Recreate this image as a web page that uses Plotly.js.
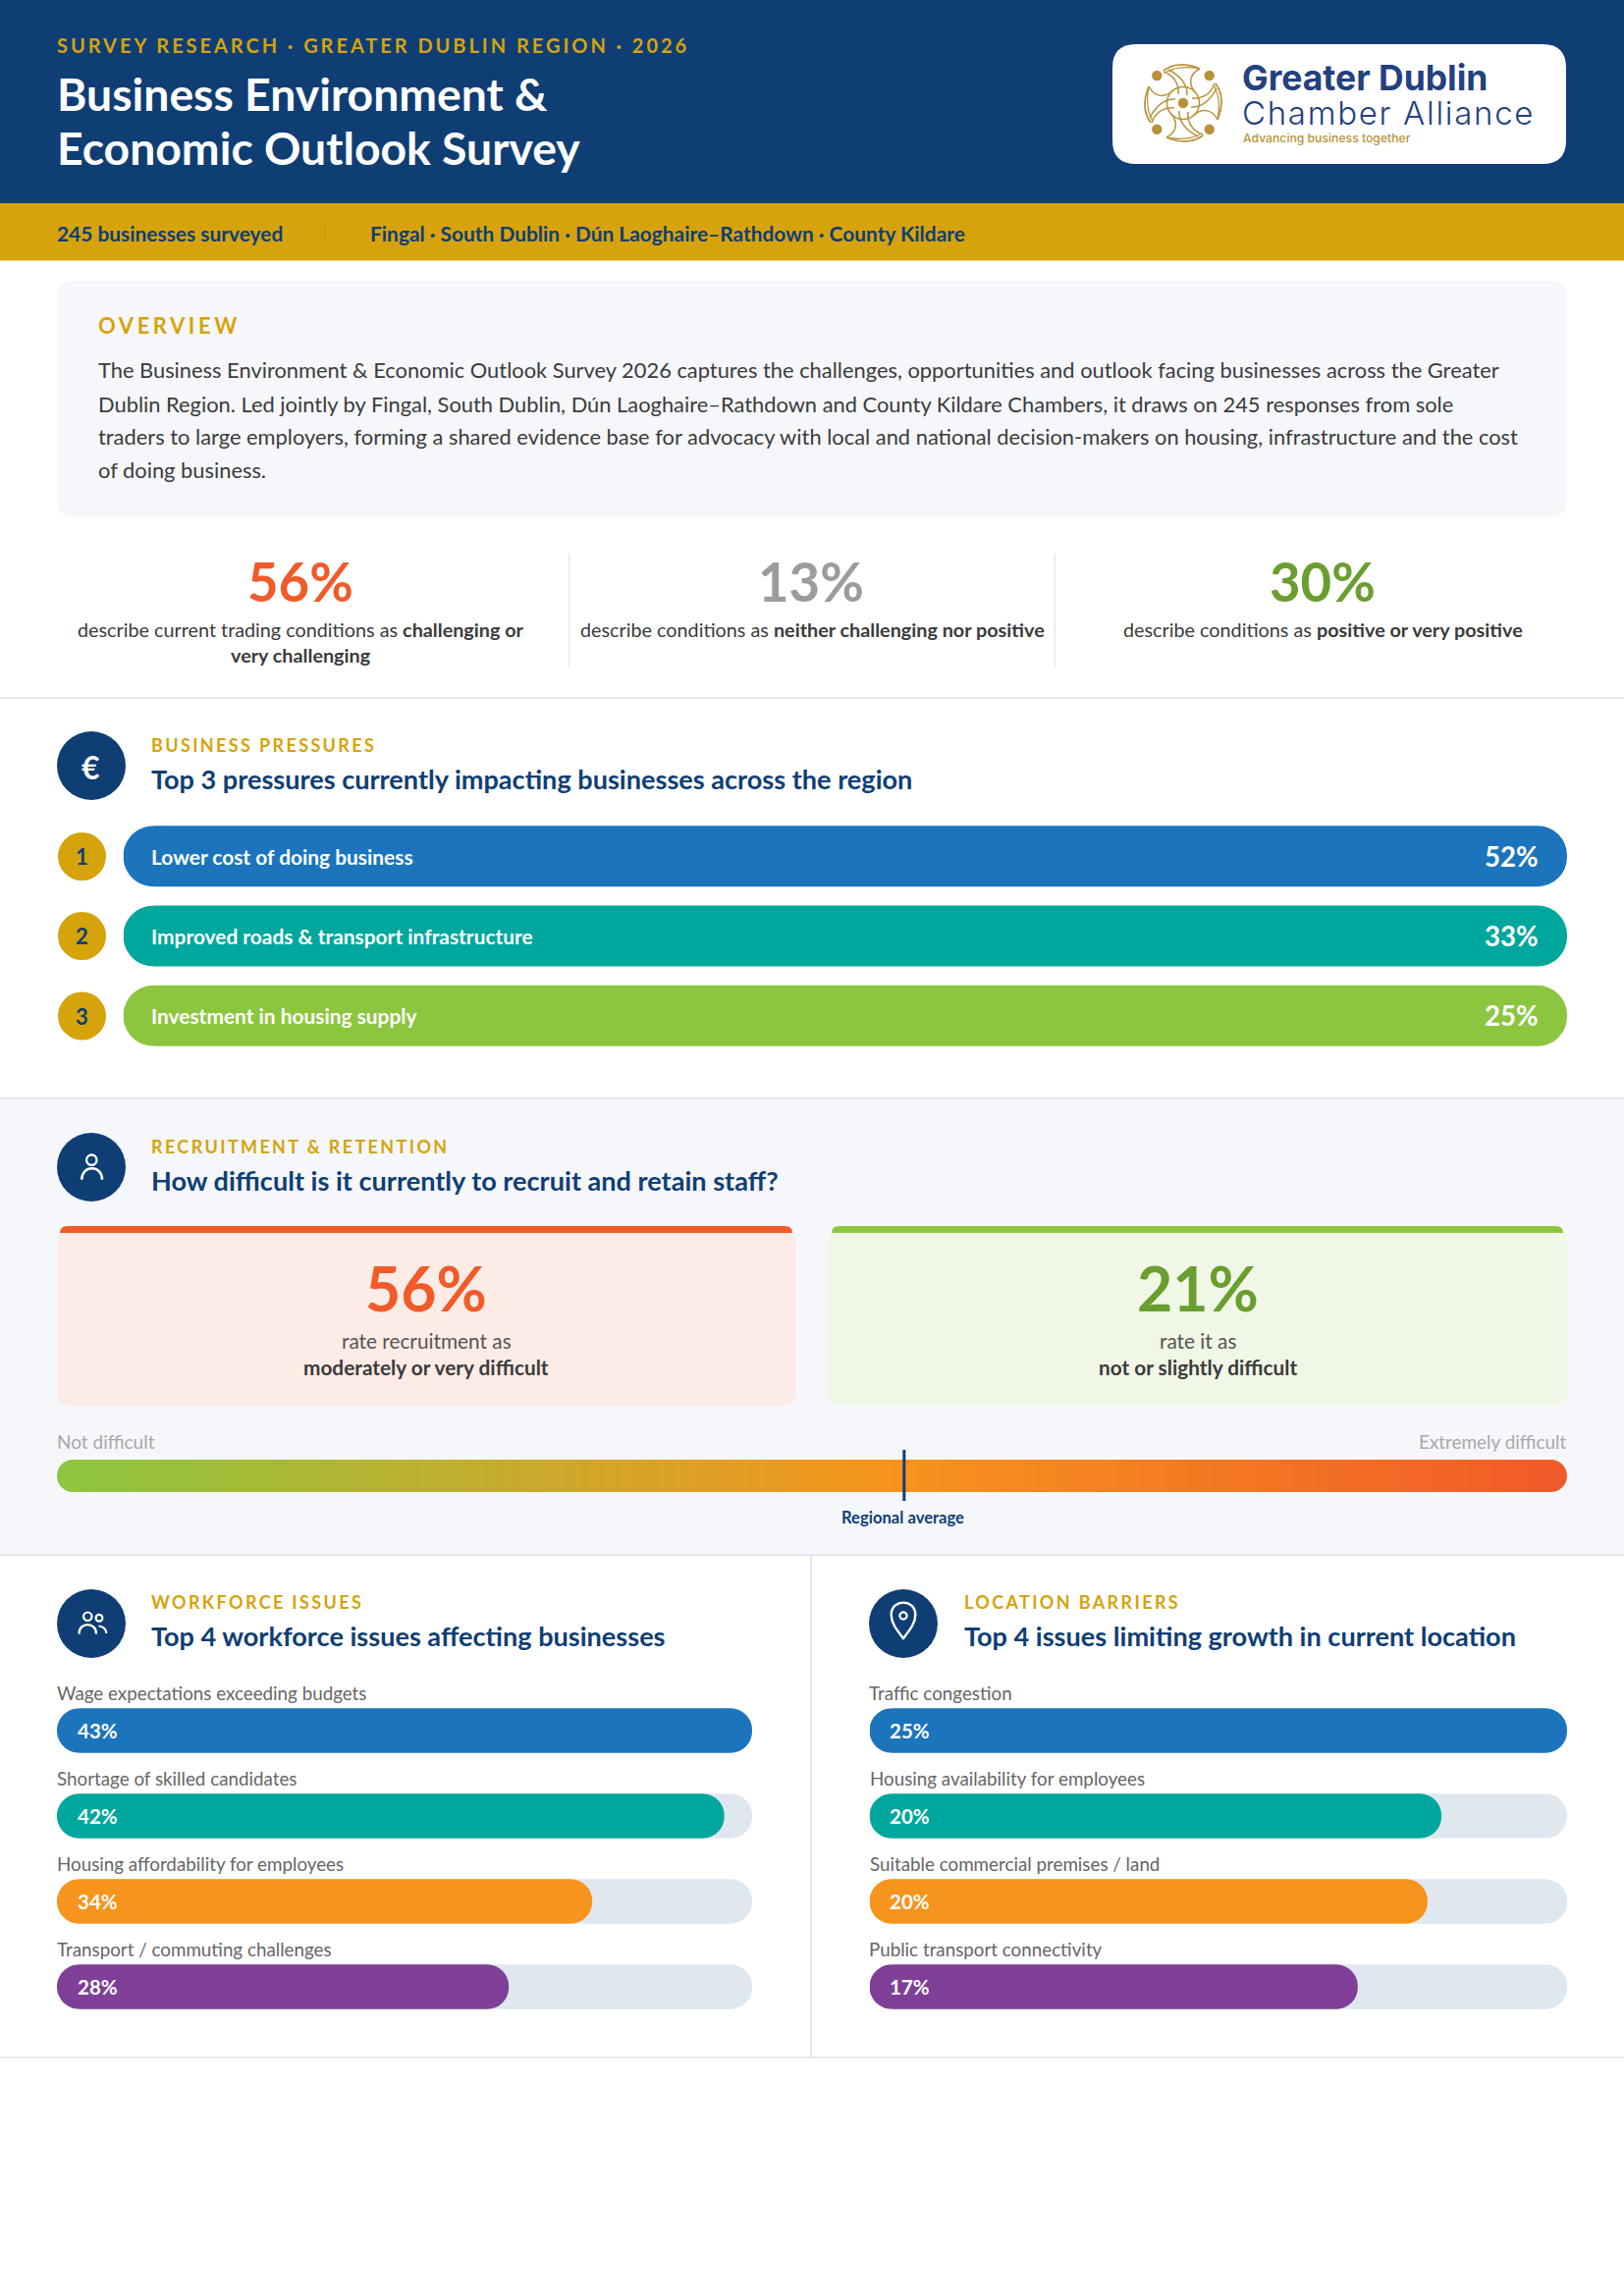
<!DOCTYPE html>
<html><head><meta charset="utf-8">
<script src="https://cdn.plot.ly/plotly-3.0.1.min.js"></script>
<style>html,body{margin:0;padding:0;background:#fff}#chart{width:1654px;height:2339px}</style>
</head><body><div id="chart"></div>
<script>
// ---- data ----
const kpiValues = ["56%", "13%", "30%"];
const pressureCategories = ["Lower cost of doing business", "Improved roads & transport infrastructure", "Investment in housing supply"];
const pressureValues = [52, 33, 25];
const pressureBarLength = [100, 100, 100];
const pressureColors = ["#1c75bc", "#00a79d", "#8cc63f"];
const recruitmentDifficult = 56;
const recruitmentEasy = 21;
const regionalAveragePosition = 56.1;
const gradientPositions = [0, 25, 50, 75, 100];
const workforceCategories = ["Wage expectations exceeding budgets", "Shortage of skilled candidates", "Housing affordability for employees", "Transport / commuting challenges"];
const workforceValues = [43, 42, 34, 28];
const workforceBarLength = [100, 96, 77, 65];
const locationCategories = ["Traffic congestion", "Housing availability for employees", "Suitable commercial premises / land", "Public transport connectivity"];
const locationValues = [25, 20, 20, 17];
const locationBarLength = [100, 82, 80, 70];
const issueColors = ["#1c75bc", "#00a79d", "#f7941d", "#7f3f98"];
const trackLength = [100, 100, 100, 100];
const overviewLines = [
 "The Business Environment & Economic Outlook Survey 2026 captures the challenges, opportunities and outlook facing businesses across the Greater",
 "Dublin Region. Led jointly by Fingal, South Dublin, Dún Laoghaire–Rathdown and County Kildare Chambers, it draws on 245 responses from sole",
 "traders to large employers, forming a shared evidence base for advocacy with local and national decision-makers on housing, infrastructure and the cost",
 "of doing business."];

// ---- palette ----
const NAVY="#0f3e75", GOLD="#d6a30a", PALE="#f5f7fb", RULE="#e3e9f0", BODY="#3b3b3b";

const W=1654,H=2339;
const ann=[],shp=[],spaced=[];
function txt(x,y,text,size,color,o){o=o||{};
  ann.push({xref:o.xref||'x',yref:o.yref||'y',x:x,y:y,xshift:o.xshift||0,yshift:o.yshift||0,text:text,showarrow:false,
    xanchor:o.anchor||'left',yanchor:'middle',align:o.anchor||'left',borderpad:0,borderwidth:0,
    font:{family:o.family||'Lato',size:size,color:color,weight:o.weight||400}});
  if(o.spacing) spaced.push([text,o.spacing]);
}
function rr(x0,y0,x1,y1,r){return `M${x0+r},${y0}L${x1-r},${y0}Q${x1},${y0} ${x1},${y0+r}L${x1},${y1-r}Q${x1},${y1} ${x1-r},${y1}L${x0+r},${y1}Q${x0},${y1} ${x0},${y1-r}L${x0},${y0+r}Q${x0},${y0} ${x0+r},${y0}Z`;}
function fillPath(p,color,layer){shp.push({type:'path',xref:'x',yref:'y',path:p,fillcolor:color,line:{width:0},layer:layer||'below'});}
function strokePath(p,color,w,layer){shp.push({type:'path',xref:'x',yref:'y',path:p,fillcolor:'rgba(0,0,0,0)',line:{width:w,color:color},layer:layer||'below'});}
function rect(x0,y0,x1,y1,color,layer){shp.push({type:'rect',xref:'x',yref:'y',x0,y0,x1,y1,fillcolor:color,line:{width:0},layer:layer||'below'});}
function circ(cx,cy,r,color,lc,lw){shp.push({type:'circle',xref:'x',yref:'y',x0:cx-r,x1:cx+r,y0:cy-r,y1:cy+r,fillcolor:color,line:{width:lw||0,color:lc||color},layer:'below'});}
// background-coloured corners that round the left end of a horizontal bar
function leftCap(x,yT,yB,color){const r=(yB-yT)/2,k=r*0.4477,m=yT+r;
  fillPath(`M${x-1},${yT-1}L${x+r},${yT-1}L${x+r},${yT}C${x+k},${yT} ${x},${yT+k} ${x},${m}C${x},${m+r-k} ${x+k},${yB} ${x+r},${yB}L${x+r},${yB+1}L${x-1},${yB+1}Z`,color,'above');}

// ---- backgrounds ----
rect(0,0,W,207,NAVY);
rect(0,207,W,265.5,GOLD);
fillPath(rr(58,286,1596,526.5,18),PALE);
rect(0,710,W,712,RULE);
rect(0,1119,W,1584,PALE);
rect(0,1118,W,1120,RULE);
rect(0,1583,W,1585,RULE);
rect(0,2095,W,2097,RULE);
rect(825,1584,827,2096,RULE);
rect(579,564,580.5,680,RULE);
rect(1073.5,564,1075,680,RULE);
rect(330.5,228,331.5,246,"#c4950f");

// ---- header ----
txt(58,46,"SURVEY RESEARCH · GREATER DUBLIN REGION · 2026",20,GOLD,{weight:700,spacing:2.96});
txt(58,95,"Business Environment &",46.3,"#ffffff",{weight:700});
txt(58,150,"Economic Outlook Survey",46.3,"#ffffff",{weight:700});
txt(58,237.5,"245 businesses surveyed",20.9,NAVY,{weight:700});
txt(377,237.5,"Fingal · South Dublin · Dún Laoghaire–Rathdown · County Kildare",20.9,NAVY,{weight:700});

// ---- logo ----
fillPath(rr(1133,45,1595,167,24),"#ffffff");
const LOGO="#b8923a",lcx=1205,lcy=105;
[[-26.7,-28],[26.7,-28],[-26.7,26.7],[26.7,26.7],[0,0]].forEach(d=>circ(lcx+d[0],lcy+d[1],5.2,LOGO));
function rot(p,k){let x=p[0],y=p[1];for(let i=0;i<k;i++){const t=x;x=-y;y=t;}return [lcx+x,lcy+y];}
function logoPath(start,cmds,k){const s=rot(start,k);let d=`M${s[0]},${s[1]}`;
  cmds.forEach(c=>{const P=c.slice(1).map(p=>rot(p,k));d+=c[0]+P.map(p=>p[0]+','+p[1]).join(' ');});return d;}
for(let k=0;k<4;k++){
  strokePath(logoPath([-20,-33],[['Q',[-5,-44],[17,-35]]],k),LOGO,1.7);
  strokePath(logoPath([-17,-32],[['Q',[-3,-39],[17,-35]]],k),LOGO,1.3);
  strokePath(logoPath([-20,-32],[['C',[-8,-28],[-4,-18],[-5,-9]]],k),LOGO,1.5);
  strokePath(logoPath([-15,-34],[['C',[-3,-28],[5,-18],[4,-8]]],k),LOGO,1.5);
  strokePath(logoPath([17,-35],[['C',[7,-30],[4,-20],[13,-10]]],k),LOGO,1.5);
}
circ(lcx,lcy,16.5,'rgba(0,0,0,0)',LOGO,1.5);
txt(1265,79,"Greater Dublin",35.5,"#24407f",{weight:700,family:'Inter'});
txt(1265,114.5,"Chamber Alliance",33,"#24407f",{weight:300,family:'Inter',spacing:1.7});
txt(1266,140,"Advancing business together",12.2,LOGO,{weight:500,family:'Inter'});

// ---- overview ----
txt(100,331,"OVERVIEW",22,GOLD,{weight:700,spacing:3.55});
overviewLines.forEach((l,i)=>txt(100,[376.5,411,444,478.5][i],l,21.87,BODY));

// ---- KPI ----
txt(306,591.5,kpiValues[0],54.5,"#f15a29",{anchor:'center',weight:700});
txt(826,591.5,kpiValues[1],54.5,"#9c9c9c",{anchor:'center',weight:700});
txt(1347,591.5,kpiValues[2],54.5,"#6a9e2f",{anchor:'center',weight:700});
txt(306,640.5,"describe current trading conditions as <b>challenging or</b>",19.8,BODY,{anchor:'center'});
txt(306,667,"<b>very challenging</b>",19.8,BODY,{anchor:'center'});
txt(827,640.5,"describe conditions as <b>neither challenging nor positive</b>",19.8,BODY,{anchor:'center'});
txt(1347.5,640.5,"describe conditions as <b>positive or very positive</b>",19.8,BODY,{anchor:'center'});

// ---- section heads ----
function head(cx,cy,tx,eb,title,ebY,tY){
  circ(cx,cy,35,NAVY);
  txt(tx,ebY,eb,18,GOLD,{weight:700,spacing:2.36});
  txt(tx,tY,title,27.1,NAVY,{weight:700});
}
head(93,780,154,"BUSINESS PRESSURES","Top 3 pressures currently impacting businesses across the region",759,793.5);
head(93,1189,154,"RECRUITMENT & RETENTION","How difficult is it currently to recruit and retain staff?",1168,1202);
head(93,1654,154,"WORKFORCE ISSUES","Top 4 workforce issues affecting businesses",1632,1666);
head(920,1654,982,"LOCATION BARRIERS","Top 4 issues limiting growth in current location",1632,1666);
// icons
txt(92,781,"€",32,"#ffffff",{anchor:'center',weight:700});
circ(93.3,1181.7,5.2,'rgba(0,0,0,0)','#ffffff',2.4);
strokePath("M83.3,1201.7C83.3,1186.5 104,1186.5 104,1201.7",'#ffffff',2.6);
circ(89.3,1646.7,4.2,'rgba(0,0,0,0)','#ffffff',2.2);
circ(101,1648.3,3.4,'rgba(0,0,0,0)','#ffffff',2.2);
strokePath("M80.5,1664.5C80.5,1652 98,1652 98,1664.5",'#ffffff',2.4);
strokePath("M100.5,1656.5C105,1656.5 108.3,1660 108.3,1664",'#ffffff',2.2);
strokePath("M920,1669C914,1661 907.7,1654 907.7,1645C907.7,1628.5 932.3,1628.5 932.3,1645C932.3,1654 926,1661 920,1669Z",'#ffffff',2.4);
circ(920,1646,3.6,'rgba(0,0,0,0)','#ffffff',2.2);

// ---- rank circles ----
[872.5,953.5,1035].forEach((y,i)=>{circ(83.5,y,24.5,GOLD);txt(83.5,y,String(i+1),22,NAVY,{anchor:'center',weight:700});});

// ---- recruitment cards ----
fillPath(rr(58,1252,810.5,1432,14),"#fdece6");
fillPath(rr(843.5,1252,1596,1432,14),"#f0f7e6");
fillPath("M61,1256Q61,1249 69,1249L799,1249Q807,1249 807,1256Z","#f15a29");
fillPath("M847,1256Q847,1249 855,1249L1584,1249Q1592,1249 1592,1256Z","#8cc63f");
txt(434,1311,recruitmentDifficult+"%",62.6,"#f15a29",{anchor:'center',weight:700});
txt(1219.5,1311,recruitmentEasy+"%",62.6,"#6a9e2f",{anchor:'center',weight:700});
txt(434,1365,"rate recruitment as",20.8,"#555555",{anchor:'center'});
txt(434,1392.5,"moderately or very difficult",20.8,BODY,{anchor:'center',weight:700});
txt(1219.5,1365,"rate it as",20.8,"#555555",{anchor:'center'});
txt(1219.5,1392.5,"not or slightly difficult",20.8,BODY,{anchor:'center',weight:700});
txt(58,1468.5,"Not difficult",19,"#a8a8a8");
txt(1596,1468.5,"Extremely difficult",18.9,"#a8a8a8",{anchor:'right'});
txt(919,1545.5,"Regional average",16.6,NAVY,{anchor:'center',weight:700});

// ---- axes & traces ----
const hidden={visible:false,fixedrange:true,showgrid:false,zeroline:false};
const layout={width:W,height:H,margin:{l:0,r:0,t:0,b:0,pad:0},paper_bgcolor:'#ffffff',plot_bgcolor:'rgba(0,0,0,0)',
  showlegend:false,barmode:'overlay',font:{family:'Lato'},
  xaxis:{...hidden,domain:[0,1],range:[0,W],anchor:'y'},
  yaxis:{...hidden,domain:[0,1],range:[H,0],anchor:'x'},
  shapes:shp,annotations:ann};
const traces=[{type:'scatter',x:[0],y:[0],mode:'markers',marker:{opacity:0,size:1},hoverinfo:'skip',xaxis:'x',yaxis:'y'}];
let nAxis=2;
function addAxes(x0,x1,y0,y1,cats){
  const n=nAxis++, xk='x'+n, yk='y'+n;
  layout['xaxis'+n]={...hidden,domain:[x0/W,x1/W],range:[0,100],anchor:yk};
  layout['yaxis'+n]={...hidden,type:'category',domain:[1-y1/H,1-y0/H],range:[cats.length-0.5,-0.5],anchor:xk,categoryorder:'array',categoryarray:cats};
  return [xk,yk];
}
function panel(x0,x1,y0,y1,cats,vals,lens,colors,radius,gap,track,onBar){
  // the track sits on its own axes so the shorter bars above it keep their rounded ends
  if(track){const a=addAxes(x0,x1,y0,y1,cats);
    traces.push({type:'bar',orientation:'h',x:trackLength,y:cats,xaxis:a[0],yaxis:a[1],width:gap,marker:{color:'#dfe7ef',cornerradius:radius},hoverinfo:'skip'});}
  const a=addAxes(x0,x1,y0,y1,cats), xk=a[0], yk=a[1];
  traces.push({type:'bar',orientation:'h',x:lens,y:cats,xaxis:xk,yaxis:yk,width:gap,marker:{color:colors,cornerradius:radius},text:vals.map(v=>v+'%'),textposition:'none',hovertemplate:'%{y}: %{text}<extra></extra>'});
  const step=(y1-y0)/cats.length;
  cats.forEach((c,i)=>{onBar(c,vals[i],xk,yk);
    const m=y0+(i+0.5)*step,h=gap*step/2; leftCap(x0,m-h,m+h,'#ffffff');});
}
panel(125.5,1596,831.5,1075.5,pressureCategories,pressureValues,pressureBarLength,pressureColors,31,0.762,false,(c,v,xk,yk)=>{
  txt(0,c,c.replace('&','&amp;'),20.9,'#ffffff',{xref:xk,yref:yk,xshift:28,weight:700});
  txt(100,c,v+'%',27.6,'#ffffff',{xref:xk,yref:yk,xshift:-29,anchor:'right',weight:700});
});
function issue(x0,x1,cats,vals,lens){
  panel(x0,x1,1719.5,2067.5,cats,vals,lens,issueColors,23,0.523,true,(c,v,xk,yk)=>{
    txt(0,c,c,18.8,'#666666',{xref:xk,yref:yk,yshift:38.5});
    txt(0,c,v+'%',20.5,'#ffffff',{xref:xk,yref:yk,xshift:21,weight:700});
  });
}
issue(58,766,workforceCategories,workforceValues,workforceBarLength);
issue(885.5,1596,locationCategories,locationValues,locationBarLength);

// gradient scale
const gk=nAxis++;
layout['xaxis'+gk]={...hidden,domain:[58/W,1596/W],range:[0,100],anchor:'y'+gk};
layout['yaxis'+gk]={...hidden,domain:[1-1520/H,1-1487/H],range:[0,1],anchor:'x'+gk};
traces.push({type:'heatmap',x:gradientPositions,y:[0,1],z:[gradientPositions,gradientPositions],zmin:0,zmax:100,zsmooth:'best',showscale:false,hoverinfo:'skip',
  colorscale:[[0,'#8cc63f'],[0.55,'#f7941d'],[1,'#f15a29']],xaxis:'x'+gk,yaxis:'y'+gk});
// rounded ends of the scale
leftCap(58,1487,1520,PALE);
(function(x,yT,yB,color){const r=(yB-yT)/2,k=r*0.4477,m=yT+r;
  fillPath(`M${x+1},${yT-1}L${x-r},${yT-1}L${x-r},${yT}C${x-k},${yT} ${x},${yT+k} ${x},${m}C${x},${m+r-k} ${x-k},${yB} ${x-r},${yB}L${x-r},${yB+1}L${x+1},${yB+1}Z`,color,'above');
})(1596,1487,1520,PALE);
shp.push({type:'line',xref:'x'+gk,yref:'y',x0:regionalAveragePosition,x1:regionalAveragePosition,y0:1477,y1:1529,line:{width:3,color:NAVY},layer:'above'});

Plotly.newPlot('chart',traces,layout,{staticPlot:true,displayModeBar:false}).then(()=>{
  document.querySelectorAll('.annotation-text').forEach(t=>{
    const m=spaced.find(s=>s[0].replace('&amp;','&')===t.textContent);
    if(m) t.style.letterSpacing=m[1]+'px';
  });
});
</script></body></html>
